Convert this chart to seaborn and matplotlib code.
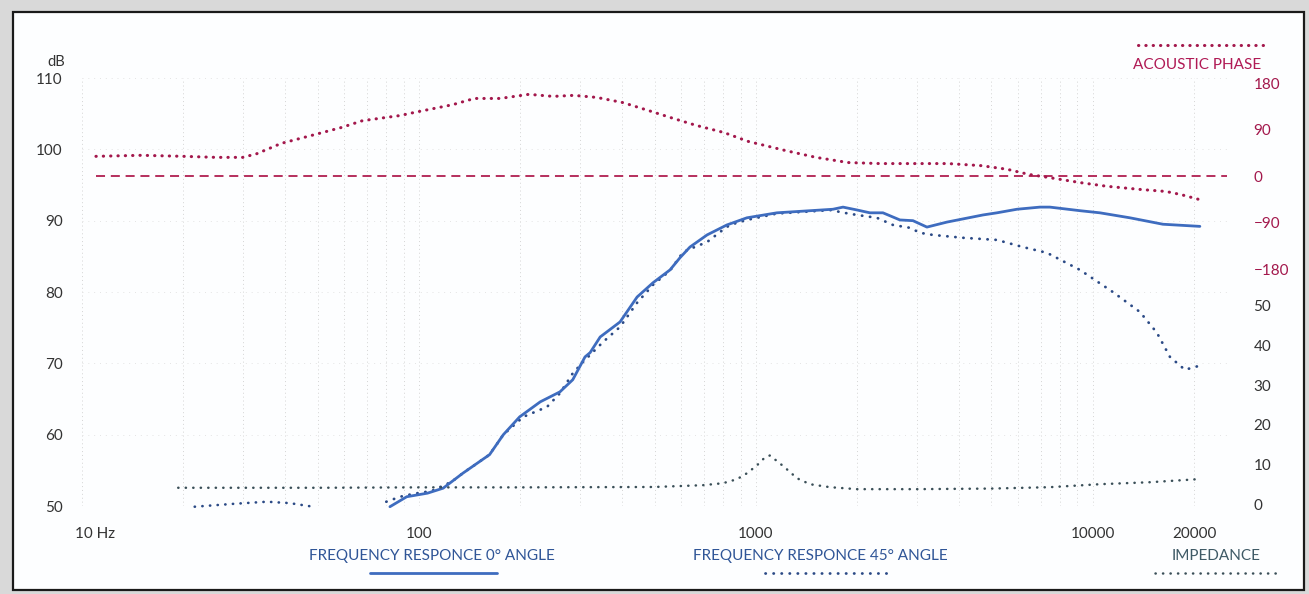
import matplotlib
matplotlib.use("Agg")
import matplotlib.pyplot as plt
import seaborn as sns
from matplotlib.patches import Rectangle
from matplotlib.lines import Line2D
from matplotlib.ticker import LogLocator, FixedLocator, NullFormatter
from matplotlib.transforms import ScaledTranslation

# ---------------- data ----------------
phase_freq = [11, 15, 20, 25, 30, 33, 39, 49, 59, 68, 88, 97, 126, 146, 174, 212, 250, 288,
              337, 403, 478, 571, 664, 804, 947, 1227, 1507, 1875, 2333, 2985, 3715, 4656,
              5560, 6457, 7400, 9204, 11010, 13780, 16480, 18250, 20800]
phase_deg = [39, 41, 39, 37, 37, 44, 64, 81, 95, 108, 118, 124, 139, 151, 151, 159, 155, 157,
             153, 143, 128, 112, 99, 85, 68, 50, 37, 27, 25, 25, 25, 21,
             14, 4, -2, -12, -19, -25, -29, -35, -45]

phase_ref_freq = [11, 25000]
phase_ref_deg = [0, 0]

freq_0 = [82, 92, 106, 118, 135, 162, 178, 199, 229, 262, 286, 311, 322, 345, 395, 444, 495,
          556, 595, 637, 716, 820, 940, 1154, 1692, 1813, 1994, 2179, 2382, 2675, 2924, 3217,
          3688, 4717, 5190, 5951, 6962, 7453, 9150, 10490, 12880, 16130, 20770]
db_0 = [49.9, 51.3, 51.8, 52.5, 54.6, 57.2, 60.0, 62.5, 64.6, 66.0, 67.7, 70.9, 71.5, 73.7,
        75.8, 79.3, 81.3, 83.1, 84.8, 86.3, 88.0, 89.4, 90.4, 91.1, 91.6, 91.9, 91.5, 91.1,
        91.1, 90.1, 90.0, 89.1, 89.8, 90.8, 91.1, 91.6, 91.9, 91.9, 91.4, 91.1, 90.4, 89.5, 89.2]

freq_45_low = [21.6, 28.1, 35.4, 41.4, 48.5]
db_45_low = [49.9, 50.3, 50.6, 50.4, 49.9]

freq_45 = [80, 88, 96, 109, 125, 135, 162, 178, 204, 240, 262, 286, 307, 352, 395, 444, 495,
           556, 608, 650, 716, 782, 837, 940, 1154, 1692, 1776, 1994, 2286, 2550, 2864, 3066,
           3351, 4114, 5190, 6199, 7302, 9150, 11460, 13790, 15480, 16930, 18750, 20490]
db_45 = [50.6, 51.3, 51.7, 52.1, 53.4, 54.6, 57.2, 60.0, 62.5, 63.9, 65.8, 68.6, 70.2, 73.0,
         75.1, 78.5, 81.0, 83.0, 85.6, 86.2, 87.0, 88.4, 89.4, 90.1, 91.0, 91.5, 91.2, 90.8,
         90.4, 89.4, 89.0, 88.3, 88.0, 87.6, 87.3, 86.3, 85.5, 83.1, 80.0, 77.2, 74.3, 70.9,
         69.1, 69.6]

imp_freq = [19.3, 50, 100, 200, 500, 696, 798, 878, 940, 1007, 1063, 1100, 1178, 1236, 1324,
            1446, 1658, 1994, 3000, 5000, 7453, 10490, 14760, 20350]
imp_ohm = [4.1, 4.1, 4.2, 4.2, 4.3, 4.75, 5.25, 6.25, 7.75, 9.75, 11.75, 12.25, 10.25, 8.75,
           6.5, 5.0, 4.25, 3.75, 3.75, 3.9, 4.25, 5.0, 5.5, 6.25]

x_ticks = [10, 100, 1000, 10000, 20000]
x_labels = ["10 Hz", "100", "1000", "10000", "20000"]
db_ticks = [50, 60, 70, 80, 90, 100, 110]
phase_ticks = [180, 90, 0, -90, -180]
imp_ticks = [0, 10, 20, 30, 40, 50]

# ---------------- style ----------------
sns.set_style("white")
plt.rcParams['font.family'] = ['Lato', 'DejaVu Sans']

W, H = 1309, 594
C_PHASE = '#a3184c'
C_0 = '#3e6cbf'
C_45 = '#2b4a86'
C_IMP = '#3a4f58'
C_TXT = '#333333'

fig = plt.figure(figsize=(W / 100, H / 100), dpi=100)
fig.patch.set_facecolor('#d9d9d9')
fig.add_artist(Rectangle((13 / W, 1 - 590 / H), (1304 - 13) / W, (590 - 12) / H,
                         transform=fig.transFigure, facecolor='#fdfeff', edgecolor='#1a1a1a',
                         lw=1.6, zorder=-10))

ax = fig.add_axes([82 / W, 1 - 506 / H, (1227 - 82) / W, (506 - 78) / H])
ax.set_facecolor('none')
axp = ax.twinx()
axi = ax.twinx()
for a in (ax, axp, axi):
    for s in a.spines.values():
        s.set_visible(False)
    a.set_facecolor('none')

ax.set_xscale('log')
ax.set_xlim(10, 25000)
ax.set_ylim(50, 110)
axp.set_ylim(-637.7, 190.6)
axi.set_ylim(-0.5, 107.5)

# grid
ax.xaxis.set_major_locator(FixedLocator(x_ticks))
ax.xaxis.set_minor_locator(LogLocator(base=10, subs=[2, 3, 4, 5, 6, 7, 8, 9]))
ax.xaxis.set_minor_formatter(NullFormatter())
ax.set_xticks(x_ticks)
ax.set_xticklabels(x_labels)
ax.grid(True, which='both', axis='x', color='#d4d4d4', lw=0.7, linestyle=(0, (1, 3)))
ax.grid(True, which='major', axis='y', color='#e4e4e4', lw=0.7, linestyle=(0, (1, 5)))
ax.set_axisbelow(True)

ax.set_yticks(db_ticks)
ax.tick_params(axis='both', which='both', length=0, labelsize=11, labelcolor=C_TXT)
ax.tick_params(axis='x', pad=15)
ax.tick_params(axis='y', pad=14)
xl = ax.get_xticklabels()
xl[0].set_horizontalalignment('left')
xl[0].set_transform(xl[0].get_transform() + ScaledTranslation(-7 / 100, 0, fig.dpi_scale_trans))

axp.set_yticks(phase_ticks)
axp.tick_params(axis='y', length=0, labelsize=11, labelcolor=C_PHASE, pad=19)
axi.set_yticks(imp_ticks)
axi.tick_params(axis='y', length=0, labelsize=11, labelcolor=C_TXT, pad=19)

dots = dict(dash_capstyle='round', clip_on=False)

# phase
sns.lineplot(x=phase_ref_freq, y=phase_ref_deg, ax=axp, color='#b01f50', lw=1.3,
             linestyle=(0, (5, 3.2)))
sns.lineplot(x=phase_freq, y=phase_deg, ax=axp, color=C_PHASE, lw=2.2,
             linestyle=(0, (0.1, 2.3)), **dots)

# impedance
sns.lineplot(x=imp_freq, y=imp_ohm, ax=axi, color=C_IMP, lw=1.8,
             linestyle=(0, (0.1, 2.9)), **dots)

# 45 degree
sns.lineplot(x=freq_45_low, y=db_45_low, ax=ax, color=C_45, lw=1.9,
             linestyle=(0, (0.1, 2.8)), **dots)
sns.lineplot(x=freq_45, y=db_45, ax=ax, color=C_45, lw=2.0,
             linestyle=(0, (0.1, 2.8)), **dots)

# 0 degree
sns.lineplot(x=freq_0, y=db_0, ax=ax, color=C_0, lw=2.0, clip_on=False,
             solid_joinstyle='round', solid_capstyle='round')

for a in (ax, axp, axi):
    leg = a.get_legend()
    if leg:
        leg.remove()
axp.set_ylabel(''); axi.set_ylabel('')
ax.set_xlabel(''); ax.set_ylabel('')

# ---------------- texts / legend ----------------
def fx(px):
    return px / W

def fy(py):
    return 1 - py / H

fig.text(fx(47), fy(62), 'dB', fontsize=10.5, color=C_TXT, ha='left', va='center')
fig.text(fx(1197), fy(65), 'ACOUSTIC PHASE', fontsize=11, color='#b01a55', ha='center', va='center')
fig.add_artist(Line2D([fx(1138), fx(1266)], [fy(45), fy(45)], transform=fig.transFigure,
                      color=C_PHASE, lw=2.2, linestyle=(0, (0.1, 2.3)), dash_capstyle='round'))

fig.text(fx(432), fy(556), 'FREQUENCY RESPONCE 0° ANGLE', fontsize=11, color='#2f5597',
         ha='center', va='center')
fig.add_artist(Line2D([fx(370), fx(497)], [fy(573), fy(573)], transform=fig.transFigure,
                      color=C_0, lw=2.0))

fig.text(fx(820), fy(556), 'FREQUENCY RESPONCE 45° ANGLE', fontsize=11, color='#2f5597',
         ha='center', va='center')
fig.add_artist(Line2D([fx(765), fx(892)], [fy(573), fy(573)], transform=fig.transFigure,
                      color=C_45, lw=2.0, linestyle=(0, (0.1, 2.8)), dash_capstyle='round'))

fig.text(fx(1216), fy(556), 'IMPEDANCE', fontsize=11, color='#3f5a66', ha='center', va='center')
fig.add_artist(Line2D([fx(1155), fx(1282)], [fy(573), fy(573)], transform=fig.transFigure,
                      color=C_IMP, lw=1.8, linestyle=(0, (0.1, 2.9)), dash_capstyle='round'))

fig.savefig('out.png', dpi=100, facecolor=fig.get_facecolor())
